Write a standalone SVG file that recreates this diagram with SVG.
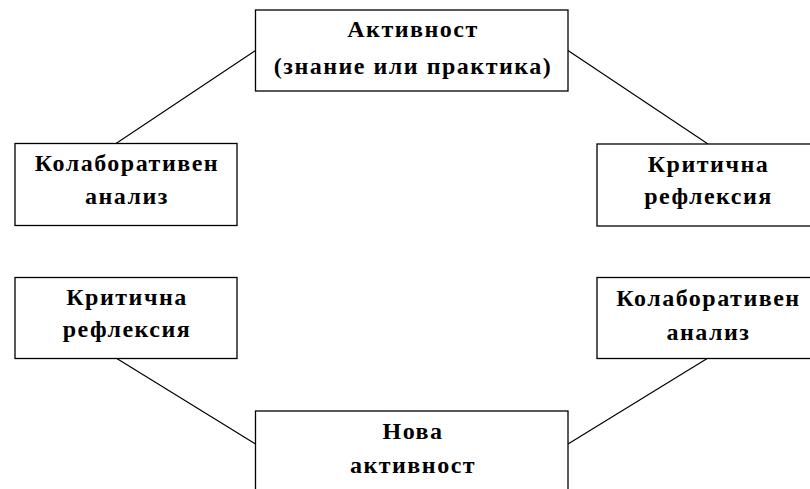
<svg xmlns="http://www.w3.org/2000/svg" width="810" height="489" viewBox="0 0 810 489">
  <style>
    .box { fill: #ffffff; stroke: #000000; stroke-width: 1.3; }
    .lbl { font-family: "Liberation Serif", "DejaVu Serif", serif; font-weight: bold; font-size: 24px; letter-spacing: 1.5px; fill: #000000; text-anchor: middle; }
    .conn line { stroke: #000000; stroke-width: 1.2; }
  </style>
  <rect x="0" y="0" width="810" height="489" fill="#ffffff"/>
  <g id="connectors" class="conn">
    <line x1="255.5" y1="50.5" x2="116" y2="143.5"/>
    <line x1="568" y1="50.5" x2="708" y2="144"/>
    <line x1="116" y1="358" x2="255.5" y2="444"/>
    <line x1="708" y1="358" x2="568" y2="444"/>
  </g>
  <g id="node-top">
    <rect class="box" x="255.5" y="10" width="312.5" height="81"/>
    <text class="lbl" x="413" y="37">Активност</text>
    <text class="lbl" x="413" y="74">(знание или практика)</text>
  </g>
  <g id="node-left-upper">
    <rect class="box" x="15" y="143.5" width="222" height="82"/>
    <text class="lbl" x="127" y="171">Колаборативен</text>
    <text class="lbl" x="127" y="204">анализ</text>
  </g>
  <g id="node-right-upper">
    <rect class="box" x="597" y="144" width="222" height="82"/>
    <text class="lbl" x="708.5" y="172">Критична</text>
    <text class="lbl" x="708.5" y="204">рефлексия</text>
  </g>
  <g id="node-left-lower">
    <rect class="box" x="15" y="277.5" width="222" height="81"/>
    <text class="lbl" x="127" y="305">Критична</text>
    <text class="lbl" x="127" y="337">рефлексия</text>
  </g>
  <g id="node-right-lower">
    <rect class="box" x="597" y="277.5" width="222" height="81"/>
    <text class="lbl" x="708.5" y="306">Колаборативен</text>
    <text class="lbl" x="708.5" y="340">анализ</text>
  </g>
  <g id="node-bottom">
    <rect class="box" x="255.5" y="411" width="312.5" height="90"/>
    <text class="lbl" x="413" y="439">Нова</text>
    <text class="lbl" x="413" y="473">активност</text>
  </g>
</svg>
